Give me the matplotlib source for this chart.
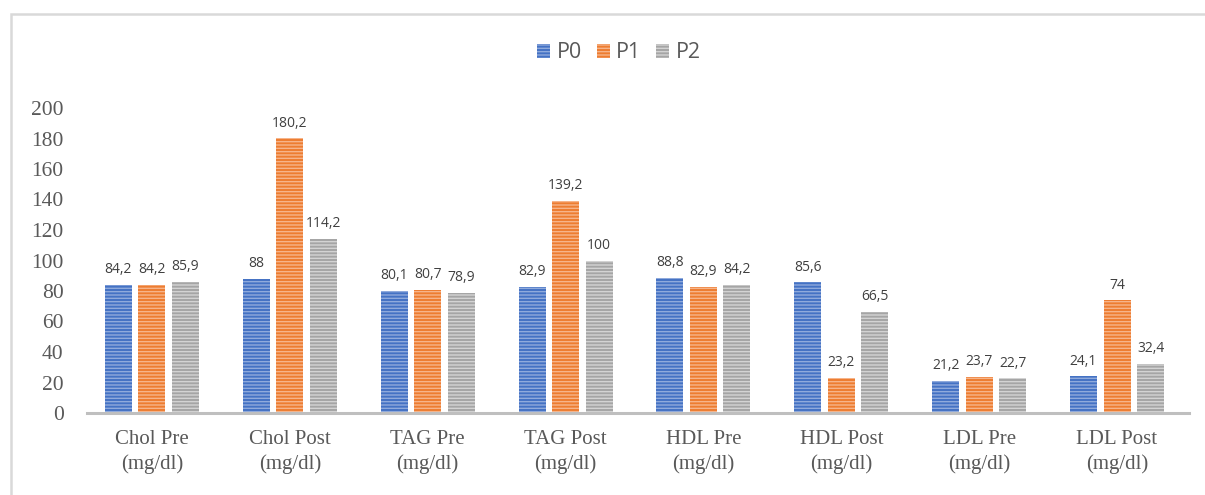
import matplotlib
matplotlib.use("Agg")
import matplotlib.pyplot as plt
from matplotlib.patches import Rectangle, Patch
import numpy as np

categories = ["Chol Pre\n(mg/dl)", "Chol Post\n(mg/dl)", "TAG Pre\n(mg/dl)", "TAG Post\n(mg/dl)",
              "HDL Pre\n(mg/dl)", "HDL Post\n(mg/dl)", "LDL Pre\n(mg/dl)", "LDL Post\n(mg/dl)"]
series_names = ["P0", "P1", "P2"]
p0 = [84.2, 88, 80.1, 82.9, 88.8, 85.6, 21.2, 24.1]
p1 = [84.2, 180.2, 80.7, 139.2, 82.9, 23.2, 23.7, 74]
p2 = [85.9, 114.2, 78.9, 100, 84.2, 66.5, 22.7, 32.4]
yticks = [0, 20, 40, 60, 80, 100, 120, 140, 160, 180, 200]

def fmt(v):
    s = ("%g" % v)
    return s.replace(".", ",")

colors = ["#4472C4", "#ED7D31", "#A5A5A5"]
stripes = ["#8FAADC", "#F6B48A", "#D3D3D3"]

plt.rcParams['hatch.linewidth'] = 1.0
fig = plt.figure(figsize=(12.05, 4.95), dpi=100)
fig.patches.append(Rectangle((11/1205, -0.1), 1.2, 1 - 14/495 + 0.1, transform=fig.transFigure,
                             fill=False, edgecolor="#d9d9d9", linewidth=1.8))
ax = fig.add_axes([83/1205, 1 - 413/495, (1186-83)/1205, (413-108)/495])

x = np.arange(len(categories))
width = 0.196
step = 0.243
data = [p0, p1, p2]
for i, (vals, c, sc) in enumerate(zip(data, colors, stripes)):
    pos = x + (i - 1) * step
    ax.bar(pos, vals, width, color=c, edgecolor=sc, linewidth=0, hatch='-----', zorder=2)
    for px, v in zip(pos, vals):
        ax.text(px, v + 5, fmt(v), ha='center', va='bottom', fontsize=10,
                family='Open Sans', color='#404040')

ax.set_xlim(-0.5, 7.5)
ax.set_ylim(0, 200)
ax.set_yticks(yticks)
ax.set_yticklabels([str(t) for t in yticks], family='Liberation Serif', fontsize=15.5, color='#595959')
ax.set_xticks(x)
ax.set_xticklabels(categories, family='Liberation Serif', fontsize=15, color='#595959', linespacing=1.35)
ax.tick_params(axis='both', length=0)
ax.tick_params(axis='y', pad=14)
ax.tick_params(axis='x', pad=12)
for s in ['top', 'right', 'left']:
    ax.spines[s].set_visible(False)
ax.spines['bottom'].set_color('#BFBFBF')
ax.spines['bottom'].set_linewidth(2.2)
ax.spines['bottom'].set_bounds(-0.47, 7.52)
ax.spines['bottom'].set_zorder(3)

handles = [Patch(facecolor=c, edgecolor=sc, linewidth=0, hatch='-----') for c, sc in zip(colors, stripes)]
fig.legend(handles, series_names, loc='center', bbox_to_anchor=(619/1205, 1 - 53/495), ncol=3,
           frameon=False, prop={'family': 'Open Sans', 'size': 15.5}, handlelength=0.6, handleheight=0.6,
           handletextpad=0.3, columnspacing=0.7, labelcolor='#595959')

fig.savefig("out.png", dpi=100)
